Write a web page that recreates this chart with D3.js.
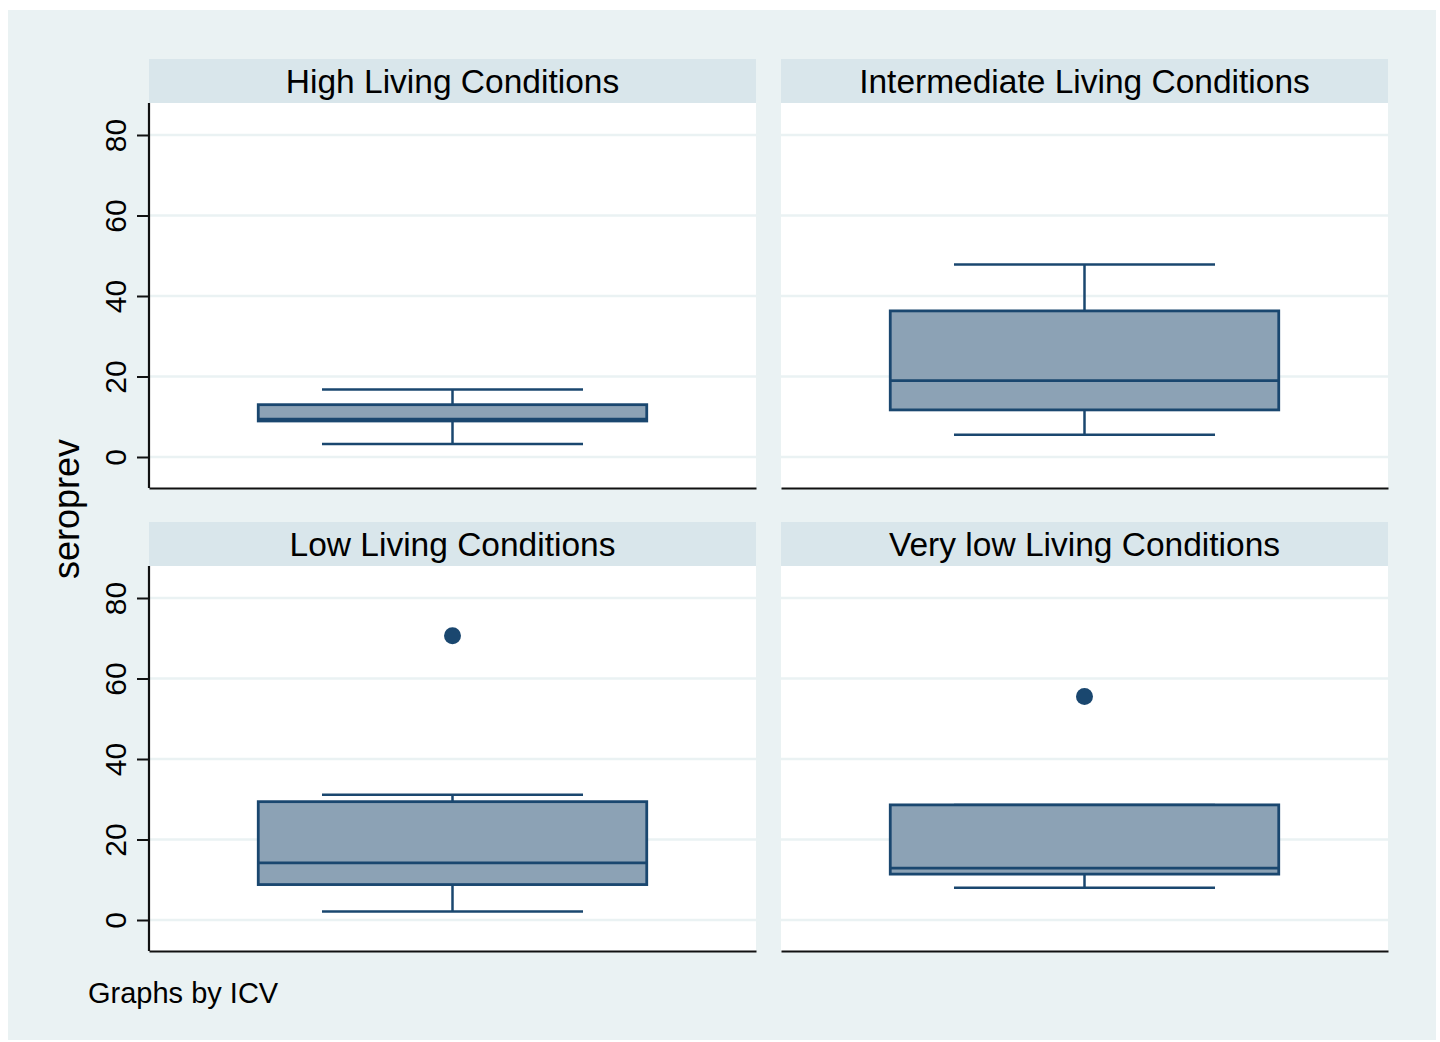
<!DOCTYPE html>
<html>
<head>
<meta charset="utf-8">
<script src="https://cdn.jsdelivr.net/npm/d3@7"></script>
<style>
body { margin: 0; background: #fff; }
text { font-family: "Liberation Sans", Arial, sans-serif; fill: #000; }
</style>
</head>
<body>
<svg width="1440" height="1042"></svg>
<script>
// box plot stats, one entry per ICV group
var groups = ["High Living Conditions", "Intermediate Living Conditions", "Low Living Conditions", "Very low Living Conditions"];
var lowWhisker = [3.2, 5.5, 2.1, 8.0];
var q1 = [8.95, 11.7, 8.8, 11.4];
var median = [9.4, 19.0, 14.2, 12.9];
var q3 = [13.0, 36.3, 29.4, 28.6];
var highWhisker = [16.8, 47.8, 31.1, 28.6];
var outliers = [[], [], [70.6], [55.5]];
var yTicks = [0, 20, 40, 60, 80];

var navy = "#1a476f";
var boxFill = "#8ca2b5";
var bgColor = "#eaf2f3";
var headColor = "#d9e6eb";

var svg = d3.select("svg");

svg.append("rect")
    .attr("x", 8).attr("y", 10)
    .attr("width", 1428).attr("height", 1030)
    .attr("fill", bgColor);

var panelW = 607;
var headH = 44;
var plotH = 385;
var cols = [149, 781];
var rows = [59, 522];

var x = d3.scaleLinear().domain([0, 1]).range([0, panelW]);
var y = d3.scaleLinear().domain([0, 80]).range([354, 32]);

groups.forEach(function (name, i) {
    var px = cols[i % 2];
    var py = rows[Math.floor(i / 2)];

    var head = svg.append("g").attr("transform", "translate(" + px + "," + py + ")");
    head.append("rect")
        .attr("width", panelW).attr("height", headH)
        .attr("fill", headColor);
    head.append("text")
        .attr("x", panelW / 2).attr("y", headH / 2)
        .attr("text-anchor", "middle")
        .attr("dominant-baseline", "central")
        .style("font-size", "33.5px")
        .text(name);

    var g = svg.append("g").attr("transform", "translate(" + px + "," + (py + headH) + ")");
    g.append("rect")
        .attr("width", panelW).attr("height", plotH)
        .attr("fill", "#fff");

    g.selectAll("line.grid")
        .data(yTicks)
        .enter()
        .append("line")
        .attr("class", "grid")
        .attr("x1", 0).attr("x2", panelW)
        .attr("y1", function (d) { return y(d); })
        .attr("y2", function (d) { return y(d); })
        .attr("stroke", bgColor)
        .attr("stroke-width", 2.5);

    // whiskers
    var cx = x(0.5);
    g.append("line")
        .attr("x1", cx).attr("x2", cx)
        .attr("y1", y(highWhisker[i])).attr("y2", y(q3[i]))
        .attr("stroke", navy).attr("stroke-width", 2.5);
    g.append("line")
        .attr("x1", cx).attr("x2", cx)
        .attr("y1", y(q1[i])).attr("y2", y(lowWhisker[i]))
        .attr("stroke", navy).attr("stroke-width", 2.5);
    [lowWhisker[i], highWhisker[i]].forEach(function (v) {
        g.append("line")
            .attr("x1", x(0.5 - 0.215)).attr("x2", x(0.5 + 0.215))
            .attr("y1", y(v)).attr("y2", y(v))
            .attr("stroke", navy).attr("stroke-width", 2.5);
    });

    // box
    g.append("rect")
        .attr("x", x(0.5 - 0.32))
        .attr("y", y(q3[i]))
        .attr("width", x(0.82) - x(0.18))
        .attr("height", y(q1[i]) - y(q3[i]))
        .attr("fill", boxFill)
        .attr("stroke", navy)
        .attr("stroke-width", 2.8);
    g.append("line")
        .attr("x1", x(0.18)).attr("x2", x(0.82))
        .attr("y1", y(median[i])).attr("y2", y(median[i]))
        .attr("stroke", navy).attr("stroke-width", 2.8);

    g.selectAll("circle")
        .data(outliers[i])
        .enter()
        .append("circle")
        .attr("cx", cx)
        .attr("cy", function (d) { return y(d); })
        .attr("r", 8.5)
        .attr("fill", navy);

    // axes
    var xAxis = d3.axisBottom(x).tickValues([]).tickSizeOuter(0);
    g.append("g")
        .attr("transform", "translate(0," + plotH + ")")
        .call(xAxis)
        .call(function (a) { a.select(".domain").attr("stroke", "#111").attr("stroke-width", 2.2); });

    if (i % 2 === 0) {
        var yAxis = d3.axisLeft(y).tickValues(yTicks).tickSize(12).tickSizeOuter(0).tickPadding(0);
        var ay = g.append("g").call(yAxis);
        ay.select(".domain")
            .attr("d", "M0,0V" + plotH)
            .attr("stroke", "#111").attr("stroke-width", 2.2);
        ay.selectAll(".tick line").attr("stroke", "#111").attr("stroke-width", 2);
        ay.selectAll(".tick text")
            .attr("x", null).attr("dy", null)
            .attr("transform", "translate(-34,0) rotate(-90)")
            .attr("text-anchor", "middle")
            .attr("dominant-baseline", "central")
            .style("font-family", "'Liberation Sans', Arial, sans-serif")
            .style("font-size", "30px")
            .attr("fill", "#000");
    }
});

svg.append("text")
    .attr("transform", "translate(66,509) rotate(-90)")
    .attr("text-anchor", "middle")
    .attr("dominant-baseline", "central")
    .style("font-size", "36px")
    .text("seroprev");

svg.append("text")
    .attr("x", 88).attr("y", 1003)
    .style("font-size", "29px")
    .text("Graphs by ICV");
</script>
</body>
</html>
